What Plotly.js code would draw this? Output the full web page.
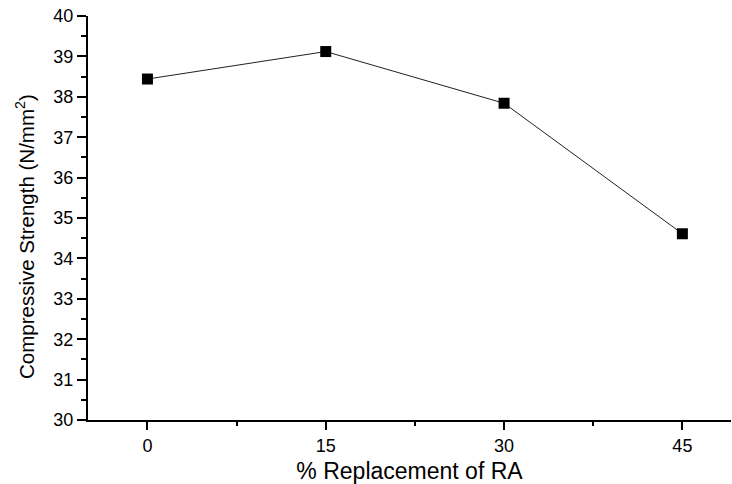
<!DOCTYPE html>
<html>
<head>
<meta charset="utf-8">
<script src="https://cdn.plot.ly/plotly-3.0.1.min.js"></script>
<style>html,body{margin:0;padding:0;background:#fff;}#chart{width:732px;height:484px;}</style>
</head>
<body>
<div id="chart"></div>
<script>
const replacement = [0, 15, 30, 45];
const strength = [38.44, 39.12, 37.84, 34.61];
const xTickVals = [0, 15, 30, 45];
const xTickText = ['0', '15', '30', '45'];
const xMinorVals = [7.5, 22.5, 37.5];
const xTitle = '% Replacement of RA';
const yTitle = 'Compressive Strength (N/mm<sup>2</sup>)';

const trace = {
  x: replacement,
  y: strength,
  type: 'scatter',
  mode: 'lines+markers',
  line: {color: '#222', width: 1},
  marker: {symbol: 'square', size: 11, color: '#000'},
  cliponaxis: false,
  showlegend: false
};

const fam = 'Arial, "Liberation Sans", sans-serif';

const layout = {
  width: 732, height: 484,
  margin: {l: 88, r: 1, t: 16, b: 64, pad: 0},
  paper_bgcolor: '#fff', plot_bgcolor: '#fff',
  font: {family: fam, color: '#000'},
  xaxis: {
    range: [-5, 49.09],
    tickvals: xTickVals, ticktext: xTickText,
    ticks: 'outside', ticklen: 8, tickwidth: 2, tickcolor: '#000',
    minor: {tickvals: xMinorVals, ticks: 'outside', ticklen: 4, tickwidth: 2, tickcolor: '#000'},
    showline: true, linecolor: '#000', linewidth: 2,
    showgrid: false, zeroline: false,
    tickfont: {size: 18, family: fam, color: '#000'},
    title: {text: xTitle, font: {size: 23, family: fam, color: '#000'}, standoff: 8},
    automargin: false
  },
  yaxis: {
    range: [30, 40],
    dtick: 1, tick0: 30,
    ticks: 'outside', ticklen: 9, tickwidth: 2, tickcolor: '#000',
    minor: {dtick: 0.5, tick0: 30, ticks: 'outside', ticklen: 5, tickwidth: 2, tickcolor: '#000'},
    showline: true, linecolor: '#000', linewidth: 2,
    showgrid: false, zeroline: false,
    tickfont: {size: 18, family: fam, color: '#000'},
    automargin: false
  },
  annotations: [{
    text: yTitle,
    xref: 'paper', yref: 'paper',
    x: 0, y: 0.453, xanchor: 'center', yanchor: 'middle',
    xshift: -63,
    textangle: -90,
    showarrow: false,
    font: {size: 20.5, family: fam, color: '#000'}
  }]
};

Plotly.newPlot('chart', [trace], layout, {displayModeBar: false, staticPlot: true});
</script>
</body>
</html>
